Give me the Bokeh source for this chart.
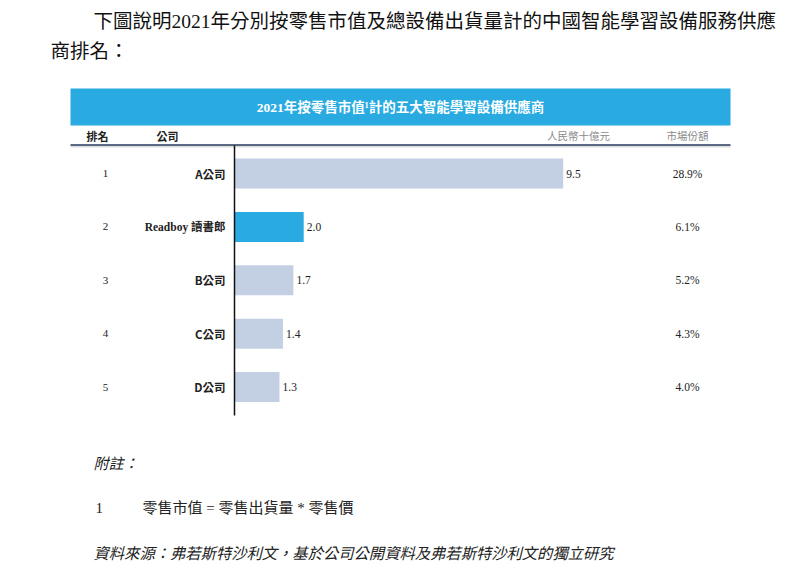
from bokeh.plotting import figure
from bokeh.models import Range1d
from bokeh.core.properties import value
from bokeh.embed import file_html
from bokeh.resources import INLINE

# ---- data ----
ranks = [1, 2, 3, 4, 5]
companies = ["A公司", "Readboy 讀書郎", "B公司", "C公司", "D公司"]
values = [9.5, 2.0, 1.7, 1.4, 1.3]
shares = ["28.9%", "6.1%", "5.2%", "4.3%", "4.0%"]
value_labels = ["9.5", "2.0", "1.7", "1.4", "1.3"]
bar_colors = ["#c3cfe2", "#29abe2", "#c3cfe2", "#c3cfe2", "#c3cfe2"]

W, H = 781, 566
OFF = 0
X0, SX = 234.0, 34.6      # page px of value 0, px per unit
Y1, SY = 173.0, 53.4      # page px of row 1, px per row

def fx(img_x):
    return (img_x - OFF - X0) / SX

def fy(img_y):
    return 1 + (img_y - OFF - Y1) / SY

p = figure(width=W, height=H, output_backend="svg", toolbar_location=None,
           x_range=Range1d(fx(OFF), fx(OFF + W)), y_range=Range1d(fy(OFF + H), fy(OFF)),
           min_border=0, outline_line_color=None)
p.axis.visible = False
p.grid.visible = False
p.background_fill_color = "white"
p.border_fill_color = "white"

SERIF = "'Liberation Serif', 'Noto Sans CJK TC'"
CJK = "'Noto Sans CJK TC'"
MIX = "'Liberation Serif', 'Noto Sans CJK TC'"

def txt(x, y, s, size, font=CJK, color="#222222", align="left", style="normal", baseline="middle"):
    p.text(x=[fx(x)], y=[fy(y)], text=[s], text_font=value(font), text_font_size=f"{size}px",
           text_color=color, text_align=align, text_baseline=baseline, text_font_style=style)

# intro paragraph
txt(93, 21, "下圖說明2021年分別按零售市值及總設備出貨量計的中國智能學習設備服務供應", 19.5, MIX, "#111111")
txt(50, 51, "商排名：", 19.5, MIX, "#111111")

# banner
p.quad(left=[fx(70)], right=[fx(730)], top=[fy(88)], bottom=[fy(125)], color="#29abe2", line_color=None)
txt(400, 107, "2021年按零售市值¹計的五大智能學習設備供應商", 13.5, MIX, "white", "center", "bold")

# header row
txt(97, 135, "排名", 11, CJK, "#222222", "center", "bold")
txt(167, 135, "公司", 11, CJK, "#222222", "center", "bold")
txt(578, 135, "人民幣十億元", 10.5, CJK, "#8a8a8a", "center")
txt(687, 135, "市場份額", 10.5, CJK, "#8a8a8a", "center")

# header underline with shadow
p.segment(x0=[fx(70)], x1=[fx(730)], y0=[fy(146)], y1=[fy(146)], line_color="#dddddd", line_width=2)
p.segment(x0=[fx(70)], x1=[fx(730)], y0=[fy(144.5)], y1=[fy(144.5)], line_color="#27395e", line_width=1.5)

# bars
p.hbar(y=ranks, left=0, right=values, height=0.5625, fill_color=bar_colors, line_color=None)

# axis line
p.segment(x0=[0], x1=[0], y0=[fy(145)], y1=[fy(415)], line_color="#111111", line_width=1.5)

# rank, company, value, share labels
company_fonts = [CJK, SERIF, CJK, CJK, CJK]
p.text(x=[fx(105)] * 5, y=ranks, text=[str(r) for r in ranks], text_font=value(SERIF),
       text_font_size="11px", text_align="center", text_baseline="middle", text_color="#222222")
p.text(x=[fx(225)] * 5, y=ranks, text=companies, text_font=company_fonts,
       text_font_size="11.5px", text_align="right", text_baseline="middle", text_color="#222222",
       text_font_style="bold")
p.text(x=[v + 0.09 for v in values], y=ranks, text=value_labels, text_font=value(SERIF),
       text_font_size="11.5px", text_align="left", text_baseline="middle", text_color="#222222")
p.text(x=[fx(687)] * 5, y=ranks, text=shares, text_font=value(SERIF),
       text_font_size="11.5px", text_align="center", text_baseline="middle", text_color="#222222")

# footnotes
txt(93, 463, "附註：", 15, MIX, "#222222", "left", "italic")
txt(95, 507, "1", 15, SERIF, "#222222")
txt(142, 507, "零售市值 = 零售出貨量 * 零售價", 15, MIX, "#222222")
txt(93, 553, "資料來源：弗若斯特沙利文，基於公司公開資料及弗若斯特沙利文的獨立研究", 15.3, MIX, "#222222", "left", "italic")

open("out.html", "w").write(file_html(p, INLINE))
